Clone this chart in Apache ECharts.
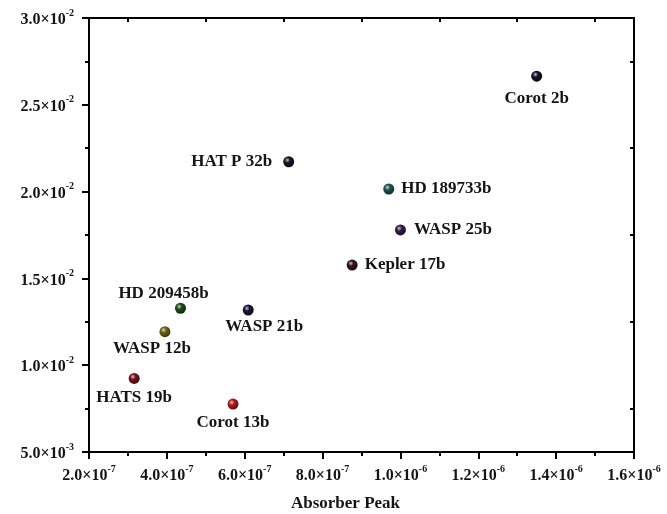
<!DOCTYPE html>
<html>
<head>
<meta charset="utf-8">
<script src="https://cdn.jsdelivr.net/npm/echarts@6/dist/echarts.min.js"></script>
<style>
html,body{margin:0;padding:0;background:#fff;}
#chart{width:667px;height:514px;}
</style>
</head>
<body>
<div id="chart"></div>
<script>
// ---- data ----
const planets = ['Corot 2b','HAT P 32b','HD 189733b','WASP 25b','Kepler 17b','WASP 21b','HD 209458b','WASP 12b','HATS 19b','Corot 13b'];
const absorberPeak = [1.35e-6, 7.13e-7, 9.70e-7, 1.00e-6, 8.76e-7, 6.09e-7, 4.35e-7, 3.95e-7, 3.16e-7, 5.70e-7];
const yValues = [2.665e-2, 2.172e-2, 2.015e-2, 1.779e-2, 1.577e-2, 1.318e-2, 1.328e-2, 1.193e-2, 9.24e-3, 7.76e-3];
const xTickLabels = ['2.0×10^-7','4.0×10^-7','6.0×10^-7','8.0×10^-7','1.0×10^-6','1.2×10^-6','1.4×10^-6','1.6×10^-6'];
const yTickLabels = ['5.0×10^-3','1.0×10^-2','1.5×10^-2','2.0×10^-2','2.5×10^-2','3.0×10^-2'];
const xAxisTitle = 'Absorber Peak';

// ---- styles ----
const dotColors = {
  'Corot 2b':'#141028','HAT P 32b':'#1e1428','HD 189733b':'#1d5550','WASP 25b':'#3a1a44',
  'Kepler 17b':'#32141c','WASP 21b':'#16163a','HD 209458b':'#1f4a1c','WASP 12b':'#6e6412',
  'HATS 19b':'#7a1020','Corot 13b':'#b01c18'
};
const labelPlace = {
  'Corot 2b':{position:'bottom',offset:[0,3]},
  'HAT P 32b':{position:'left',distance:11,offset:[0,0]},
  'HD 189733b':{position:'right',distance:7,offset:[0,0]},
  'WASP 25b':{position:'right',distance:8,offset:[0,0]},
  'Kepler 17b':{position:'right',distance:7,offset:[0,0]},
  'WASP 21b':{position:'bottom',offset:[16,-2]},
  'HD 209458b':{position:'top',offset:[-17,4]},
  'WASP 12b':{position:'bottom',offset:[-13,-2]},
  'HATS 19b':{position:'bottom',offset:[0,0]},
  'Corot 13b':{position:'bottom',offset:[0,0]}
};
const FONT = '"Liberation Serif","Times New Roman",serif';
const TXT = '#141414';

function shade(hex, f){
  const n = parseInt(hex.slice(1),16);
  let r=(n>>16)&255,g=(n>>8)&255,b=n&255;
  if(f>0){r=r+(255-r)*f;g=g+(255-g)*f;b=b+(255-b)*f;}
  else {r=r*(1+f);g=g*(1+f);b=b*(1+f);}
  return 'rgb('+Math.round(r)+','+Math.round(g)+','+Math.round(b)+')';
}
function sphere(c){
  return {type:'radial',x:0.38,y:0.35,r:0.7,colorStops:[
    {offset:0,color:shade(c,0.75)},
    {offset:0.35,color:c},
    {offset:1,color:shade(c,-0.5)}
  ]};
}
function tickFmt(labels){
  return function(v, i){
    const s = labels[i] || '';
    const p = s.split('^');
    return '{b|' + p[0] + '}{s|' + (p[1]||'') + '}';
  };
}
const richTick = {
  b:{fontFamily:FONT,fontWeight:'bold',fontSize:16,color:TXT,lineHeight:20,verticalAlign:'bottom'},
  s:{fontFamily:FONT,fontWeight:'bold',fontSize:10,color:TXT,lineHeight:20,verticalAlign:'top'}
};
const lineStyle = {color:'#000',width:2};

const seriesData = planets.map((n,i)=>{
  const lp = labelPlace[n];
  return {
    name:n,
    value:[absorberPeak[i], yValues[i]],
    itemStyle:{color:sphere(dotColors[n])},
    label:{show:true,formatter:n,position:lp.position,distance:lp.distance!==undefined?lp.distance:5,offset:lp.offset}
  };
});

const chart = echarts.init(document.getElementById('chart'), null, {renderer:'canvas'});
chart.setOption({
  backgroundColor:'#fff',
  animation:false,
  grid:{left:89,right:33,top:18,bottom:62,containLabel:false,outerBoundsMode:'none'},
  xAxis:[{
    type:'value',position:'bottom',min:2e-7,max:1.6e-6,interval:2e-7,
    axisLine:{show:true,onZero:false,lineStyle:lineStyle},
    axisTick:{show:true,inside:false,length:7,lineStyle:lineStyle},
    minorTick:{show:true,splitNumber:2,length:4,lineStyle:lineStyle},
    splitLine:{show:false},
    axisLabel:{margin:12,formatter:tickFmt(xTickLabels),rich:richTick,showMinLabel:true,showMaxLabel:true},
    name:xAxisTitle,nameLocation:'middle',nameGap:43,
    nameTextStyle:{fontFamily:FONT,fontWeight:'bold',fontSize:17,color:TXT,padding:[0,32,0,0]}
  },{
    type:'value',position:'top',min:2e-7,max:1.6e-6,interval:2e-7,
    axisLine:{show:true,onZero:false,lineStyle:lineStyle},
    axisTick:{show:false,inside:true},
    minorTick:{show:true,splitNumber:2,length:4,lineStyle:lineStyle},
    splitLine:{show:false},axisLabel:{show:false}
  }],
  yAxis:[{
    type:'value',position:'left',min:5e-3,max:3e-2,interval:5e-3,
    axisLine:{show:true,onZero:false,lineStyle:lineStyle},
    axisTick:{show:true,inside:false,length:7,lineStyle:lineStyle},
    minorTick:{show:true,splitNumber:2,length:4,lineStyle:lineStyle},
    splitLine:{show:false},
    axisLabel:{margin:15,formatter:tickFmt(yTickLabels),rich:richTick,showMinLabel:true,showMaxLabel:true}
  },{
    type:'value',position:'right',min:5e-3,max:3e-2,interval:5e-3,
    axisLine:{show:true,onZero:false,lineStyle:lineStyle},
    axisTick:{show:false,inside:true},
    minorTick:{show:true,splitNumber:2,length:4,lineStyle:lineStyle},
    splitLine:{show:false},axisLabel:{show:false}
  }],
  series:[{
    type:'scatter',
    xAxisIndex:0,yAxisIndex:0,
    symbol:'circle',symbolSize:11,
    itemStyle:{borderWidth:0,opacity:1},
    label:{fontFamily:FONT,fontWeight:'bold',fontSize:17,color:TXT},
    emphasis:{disabled:true},
    data:seriesData
  }]
});
</script>
</body>
</html>
